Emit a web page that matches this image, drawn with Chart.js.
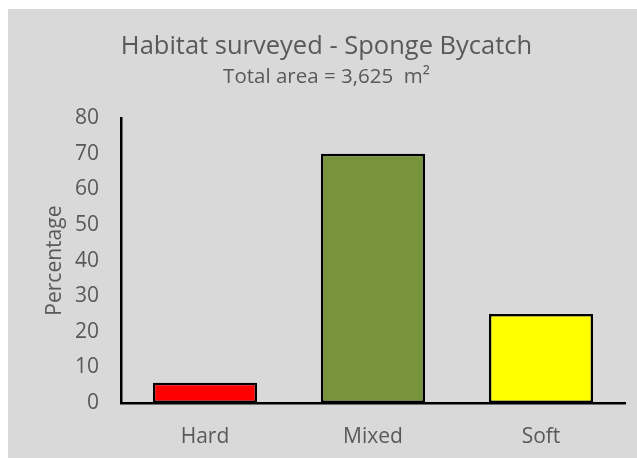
<!DOCTYPE html>
<html>
<head>
<meta charset="utf-8">
<script src="https://cdn.jsdelivr.net/npm/chart.js@4"></script>
<style>
  body { margin: 9px 0 0 8px; background: #ffffff; }
  #wrap { width: 629px; height: 449px; background: #d9d9d9; }
</style>
</head>
<body>
<div id="wrap"><canvas id="myChart" width="629" height="449"></canvas></div>
<script>
'use strict';

// habitat types and share of surveyed area (%)
let habitats = ['Hard', 'Mixed', 'Soft'];
let percentages = [5.7, 70, 25];
let barColors = ['#ff0000', '#77933c', '#ffff00'];
let yTicks = [0, 10, 20, 30, 40, 50, 60, 70, 80];

let textColor = '#595959';
let fontFamily = "'Open Sans', sans-serif";

//setup block
let data = {
    labels: habitats,
    datasets: [{
        data: percentages,
        backgroundColor: barColors,
        borderColor: '#000000',
        borderWidth: 2.5,
        borderSkipped: false,
        categoryPercentage: 1,
        barPercentage: 0.62
    }]
};

//config block
let config = {
    type: 'bar',
    data,
    options: {
        responsive: false,
        animation: false,
        layout: { padding: { left: 20, right: 12, top: 0, bottom: 0 } },
        plugins: {
            legend: { display: false },
            tooltip: { enabled: false },
            title: {
                display: true,
                text: 'Habitat surveyed - Sponge Bycatch',
                color: textColor,
                font: { family: fontFamily, size: 25.5, weight: 'normal' },
                padding: { top: 22, bottom: 0 }
            },
            subtitle: {
                display: true,
                text: 'Total area = 3,625  m²',
                color: textColor,
                font: { family: fontFamily, size: 20.5, weight: 'normal' },
                padding: { top: 3, bottom: 29 }
            }
        },
        scales: {
            x: {
                grid: { display: false },
                border: { display: true, color: '#000000', width: 2.5 },
                ticks: {
                    color: textColor,
                    font: { family: fontFamily, size: 21 },
                    padding: 13
                },
                afterFit: function (scale) { scale.height = 55; }
            },
            y: {
                min: 0,
                max: 80,
                grid: { display: false },
                border: { display: true, color: '#000000', width: 2.5 },
                afterBuildTicks: function (scale) {
                    scale.ticks = yTicks.map(v => ({ value: v }));
                },
                ticks: {
                    color: textColor,
                    font: { family: fontFamily, size: 21 },
                    padding: 14
                },
                title: {
                    display: true,
                    text: 'Percentage',
                    color: textColor,
                    font: { family: fontFamily, size: 21 },
                    padding: { top: 14, bottom: 0 }
                },
                afterFit: function (scale) { scale.width = 93; }
            }
        }
    }
};

let myChart = new Chart(document.getElementById('myChart'), config);
</script>
</body>
</html>
